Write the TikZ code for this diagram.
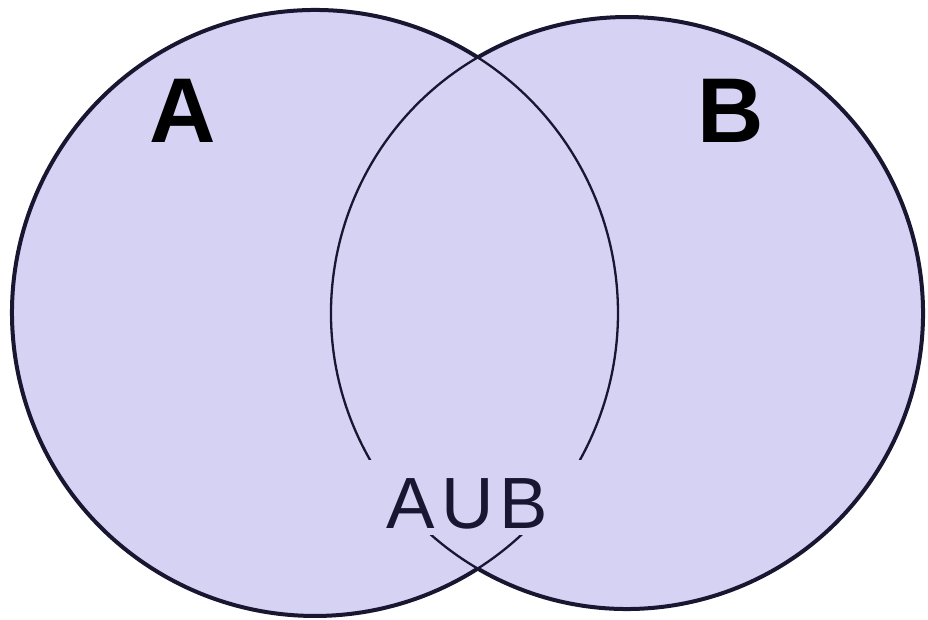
\documentclass[tikz,border=0pt]{standalone}
\usepackage{fontspec}
\setmainfont{Liberation Sans}
\definecolor{lav}{RGB}{214,210,244}
\definecolor{ink}{RGB}{24,22,48}
\begin{document}
\begin{tikzpicture}[x=1pt,y=1pt,
  outer/.style={draw=ink,line width=4pt},
  inner/.style={draw=ink,line width=2.3pt},
  big/.style={font=\fontsize{92}{100}\selectfont\bfseries,inner sep=0pt,text=black},
  mid/.style={font=\fontsize{72.6}{80}\selectfont,inner sep=0pt,text=ink}]
\useasboundingbox (0,0) rectangle (928,620);
\fill[white] (0,0) rectangle (928,620);
\coordinate (ca) at (315,307);
\coordinate (cb) at (627,307);
\fill[lav] (ca) circle[radius=303];
\fill[lav] (cb) circle[radius=296];
% inner arcs
\draw[inner] (ca) ++(-57.5:303) arc[start angle=-57.5,end angle=57.5,radius=303];
\draw[inner] (cb) ++(120.3:296) arc[start angle=120.3,end angle=239.7,radius=296];
% gap behind label
\fill[lav] (360,85) rectangle (590,160);
% outer boundary
\draw[outer] (ca) ++(57.5:303) arc[start angle=57.5,end angle=302.5,radius=303];
\draw[outer] (cb) ++(-120.3:296) arc[start angle=-120.3,end angle=120.3,radius=296];
% labels
\node[big] (la) at (183,509) {A};
\node[big] (lb) at (731,509) {B};
\node[mid] (lu) at (467.5,116) {A\kern6pt U\kern6pt B};
\end{tikzpicture}
\end{document}
